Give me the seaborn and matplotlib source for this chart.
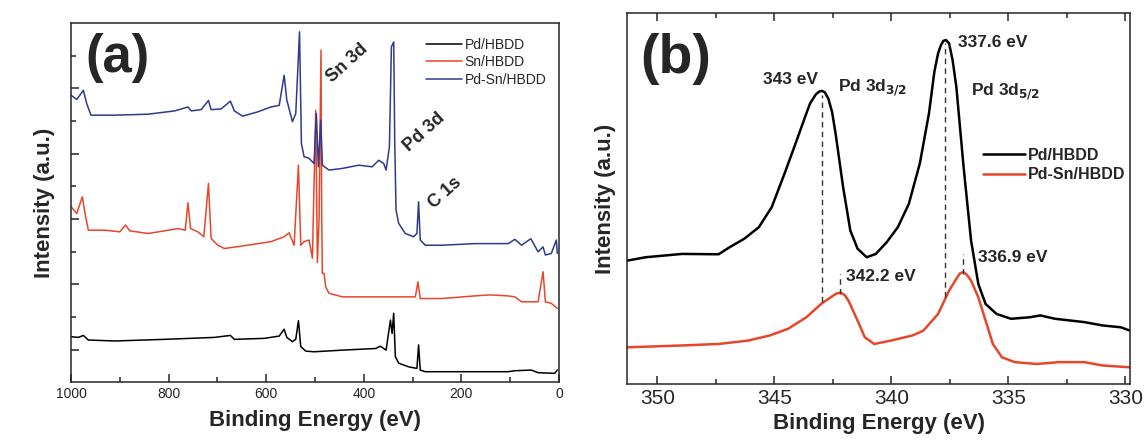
import numpy as np
import pandas as pd
import seaborn as sns
import matplotlib.pyplot as plt
from matplotlib.ticker import MultipleLocator, FixedLocator

# -----------------------------
# Data (a): survey spectra
# -----------------------------
pd_be = [1000, 985.0, 974.8, 964.6, 910.2, 808.2, 706.1, 673.5, 665.3, 604.1, 573.5,
         563.3, 557.8, 546.3, 539.5, 534.0, 529.3, 519.0, 502.0, 444.2, 376.1, 366.0,
         354.4, 345.5, 342.1, 338.8, 335.4, 328.6, 308.2, 291.2, 287.8, 284.4, 274.1,
         172.1, 104.1, 90.5, 56.6, 42.9, 8.8, 3.5]
pd_int = [1.40, 1.38, 1.44, 1.30, 1.27, 1.32, 1.38, 1.44, 1.32, 1.35, 1.42,
          1.63, 1.38, 1.25, 1.32, 1.89, 1.10, 0.96, 0.94, 0.99, 1.04, 1.11,
          0.99, 1.91, 1.50, 2.12, 0.79, 0.59, 0.48, 0.43, 1.15, 0.38, 0.33,
          0.33, 0.33, 0.36, 0.38, 0.30, 0.28, 0.38]

sn_be = [1000, 988.4, 976.9, 971.4, 964.6, 930.6, 900.0, 888.4, 879.6, 842.2, 808.2,
         780.9, 766.0, 760.5, 755.1, 740.1, 727.9, 718.4, 713.0, 699.3, 685.7, 638.1,
         590.5, 563.3, 553.1, 542.9, 534.0, 529.3, 522.5, 512.2, 505.4, 498.6, 495.2,
         491.8, 487.8, 486.4, 485.0, 481.6, 478.2, 471.4, 444.2, 376.1, 294.5, 289.1,
         284.4, 240.1, 172.1, 141.5, 104.1, 90.5, 76.9, 42.9, 32.7, 27.9, 15.7, 3.5]
sn_int = [5.38, 5.17, 5.68, 5.17, 4.66, 4.66, 4.61, 4.82, 4.64, 4.56, 4.64,
          4.71, 4.66, 5.50, 4.71, 4.61, 4.46, 6.09, 4.41, 4.20, 4.10, 4.20,
          4.31, 4.46, 4.58, 4.20, 6.65, 4.20, 4.31, 4.36, 3.80, 8.33, 3.67,
          4.97, 10.17, 5.20, 3.34, 3.34, 2.93, 2.73, 2.62, 2.62, 2.62, 3.08,
          2.57, 2.57, 2.65, 2.68, 2.65, 2.62, 2.47, 2.47, 3.39, 2.47, 2.42, 2.27]

pdsn_be = [1000, 988.4, 974.8, 968.0, 959.2, 910.2, 842.2, 787.8, 760.5, 753.7, 733.3,
           718.4, 713.0, 692.5, 673.5, 665.3, 648.3, 617.7, 590.5, 573.5, 563.3, 557.8,
           546.3, 539.5, 531.8, 527.9, 522.5, 512.2, 502.0, 497.3, 493.2, 488.4, 485.0,
           471.4, 444.2, 410.2, 383.0, 369.4, 359.2, 354.4, 347.6, 343.5, 338.8, 336.7,
           334.0, 328.6, 315.0, 298.0, 291.2, 287.8, 284.4, 274.1, 240.1, 172.1, 104.1,
           90.5, 76.9, 57.8, 42.9, 32.7, 27.9, 15.7, 5.5, 3.5]
pdsn_int = [8.79, 8.66, 8.94, 8.54, 8.18, 8.18, 8.21, 8.31, 8.43, 8.31, 8.35,
            8.63, 8.35, 8.37, 8.61, 8.31, 8.15, 8.28, 8.43, 8.48, 9.40, 8.64,
            7.98, 8.23, 10.73, 7.31, 6.91, 6.86, 6.70, 8.23, 6.60, 8.03, 6.65,
            6.50, 6.55, 6.65, 6.60, 6.80, 6.70, 6.50, 7.21, 10.27, 10.42, 7.42,
            5.28, 4.87, 4.56, 4.46, 4.56, 5.53, 4.36, 4.20, 4.20, 4.25, 4.25,
            4.38, 4.20, 4.40, 4.00, 4.15, 3.90, 3.95, 4.36, 3.95]

# -----------------------------
# Data (b): Pd 3d region
# -----------------------------
b_pd_be = [351.28, 350.50, 348.94, 347.38, 346.91, 346.28, 345.66, 345.11, 344.56,
           344.09, 343.63, 343.47, 343.23, 343.08, 342.97, 342.84, 342.69, 342.53,
           342.38, 342.06, 341.75, 341.44, 341.05, 340.66, 340.19, 339.72, 339.25,
           338.78, 338.39, 338.16, 338.00, 337.88, 337.77, 337.66, 337.53, 337.38,
           337.22, 336.91, 336.59, 336.28, 335.97, 335.50, 334.88, 334.09, 333.63,
           333.00, 331.75, 330.97, 330.19, 329.80]
b_pd_int = [33.3, 34.2, 35.1, 35.0, 36.9, 39.2, 42.3, 47.7, 56.8,
            64.9, 73.0, 75.7, 78.1, 78.9, 79.1, 78.7, 77.0, 73.4,
            67.6, 53.2, 41.4, 36.5, 34.2, 35.1, 38.3, 42.3, 48.6,
            59.5, 73.0, 84.2, 89.2, 91.4, 92.6, 92.8, 91.9, 87.4,
            80.2, 58.6, 38.7, 27.0, 21.6, 18.9, 17.6, 18.0, 18.5,
            17.6, 16.7, 15.8, 15.3, 14.4]

b_pdsn_be = [351.28, 348.94, 347.38, 346.13, 345.19, 344.41, 343.63, 343.00, 342.45,
             342.30, 342.14, 341.98, 341.83, 341.44, 341.13, 340.73, 340.03, 339.09,
             338.63, 338.00, 337.53, 337.22, 337.06, 336.91, 336.75, 336.59, 336.28,
             335.97, 335.66, 335.27, 334.72, 333.78, 332.84, 331.75, 330.97, 329.80]
b_pdsn_int = [9.9, 10.4, 10.8, 11.7, 13.1, 14.9, 18.0, 21.6, 24.0,
              24.5, 24.6, 23.9, 22.5, 17.1, 12.6, 10.8, 11.7, 13.1,
              14.4, 18.9, 25.2, 28.4, 29.9, 30.2, 29.3, 27.9, 23.4,
              17.1, 10.8, 7.2, 5.9, 5.4, 5.9, 5.9, 5.0, 4.5]

# peak positions marked with dashed lines (x, y_top, y_bottom)
peak_x = [342.97, 337.69, 342.19, 336.94]
peak_top = [78.0, 92.0, 29.7, 35.0]
peak_bot = [22.1, 23.4, 24.3, 29.7]

RED = "#E8462B"
BLUE = "#2E3A8C"

sns.set_style("ticks")
plt.rcParams['font.family'] = ['Liberation Sans', 'DejaVu Sans']

fig = plt.figure(figsize=(11.46, 4.46), dpi=100)
ax1 = fig.add_axes([0.062, 0.1424, 0.4258, 0.806])
ax2 = fig.add_axes([0.5474, 0.139, 0.4386, 0.831])

# -----------------------------
# Panel (a)
# -----------------------------
for be, inten, col, lab in [(pd_be, pd_int, "black", "Pd/HBDD"),
                            (sn_be, sn_int, RED, "Sn/HBDD"),
                            (pdsn_be, pdsn_int, BLUE, "Pd-Sn/HBDD")]:
    sns.lineplot(x=be, y=inten, ax=ax1, color=col, lw=1.1, sort=False,
                 estimator=None, label=lab)

ax1.set_xlim(1000, 0)
ax1.set_ylim(0, 11)
ax1.xaxis.set_major_locator(MultipleLocator(200))
ax1.xaxis.set_minor_locator(MultipleLocator(100))
ax1.yaxis.set_major_locator(FixedLocator([1, 3, 5, 7, 9]))
ax1.yaxis.set_minor_locator(FixedLocator([2, 4, 6, 8, 10]))
ax1.tick_params(axis="both", which="major", direction="in", length=6, width=1.1,
                labelsize=10)
ax1.tick_params(axis="both", which="minor", direction="in", length=3.5, width=1.1)
ax1.tick_params(axis="y", labelleft=False)
ax1.set_xlabel("Binding Energy (eV)", fontsize=16, fontweight="bold", labelpad=6)
ax1.set_ylabel("Intensity (a.u.)", fontsize=16, fontweight="bold", labelpad=8)
for sp in ax1.spines.values():
    sp.set_visible(True)
    sp.set_linewidth(1.1)

ax1.text(970, 9.92, "(a)", fontsize=38, fontweight="bold", ha="left", va="center")
ax1.text(434, 9.77, "Sn 3d", fontsize=13, fontweight="bold", rotation=42,
         ha="center", va="center")
ax1.text(277, 7.67, "Pd 3d", fontsize=13, fontweight="bold", rotation=42,
         ha="center", va="center")
ax1.text(234, 5.79, "C 1s", fontsize=13, fontweight="bold", rotation=42,
         ha="center", va="center")
ax1.legend(loc="upper left", bbox_to_anchor=(0.715, 0.975), frameon=False,
           fontsize=10, handlelength=2.6, handletextpad=0.2, labelspacing=0.25,
           borderaxespad=0)

# -----------------------------
# Panel (b)
# -----------------------------
sns.lineplot(x=b_pd_be, y=b_pd_int, ax=ax2, color="black", lw=1.8, sort=False,
             estimator=None, label="Pd/HBDD")
sns.lineplot(x=b_pdsn_be, y=b_pdsn_int, ax=ax2, color=RED, lw=1.8, sort=False,
             estimator=None, label="Pd-Sn/HBDD")
for px, yt, yb in zip(peak_x, peak_top, peak_bot):
    ax2.plot([px, px], [yb, yt], color="#333333", lw=1.0, ls=(0, (4, 3)))

ax2.set_xlim(351.28, 329.8)
ax2.set_ylim(0, 100)
ax2.xaxis.set_major_locator(MultipleLocator(5))
ax2.xaxis.set_minor_locator(MultipleLocator(2.5))
ax2.tick_params(axis="x", which="major", direction="in", length=6, width=1.1,
                labelsize=15, top=True)
ax2.tick_params(axis="x", which="minor", direction="in", length=3.5, width=1.1,
                top=True)
ax2.set_yticks([])
ax2.set_xlabel("Binding Energy (eV)", fontsize=16, fontweight="bold", labelpad=4)
ax2.set_ylabel("Intensity (a.u.)", fontsize=16, fontweight="bold", labelpad=8)
for sp in ax2.spines.values():
    sp.set_visible(True)
    sp.set_linewidth(1.1)

ax2.text(350.73, 87.8, "(b)", fontsize=40, fontweight="bold", ha="left", va="center")
ax2.text(345.47, 82.2, "343 eV", fontsize=12.5, fontweight="bold", va="center")
ax2.text(342.27, 80.0, "Pd 3d$_{\\mathbf{3/2}}$", fontsize=12.5, fontweight="bold",
         va="center")
ax2.text(337.14, 92.1, "337.6 eV", fontsize=12.5, fontweight="bold", va="center")
ax2.text(336.59, 78.8, "Pd 3d$_{\\mathbf{5/2}}$", fontsize=12.5, fontweight="bold",
         va="center")
ax2.text(341.94, 29.0, "342.2 eV", fontsize=12.5, fontweight="bold", va="center")
ax2.text(336.28, 34.2, "336.9 eV", fontsize=12.5, fontweight="bold", va="center")
leg = ax2.legend(loc="upper left", bbox_to_anchor=(0.695, 0.655), frameon=False,
                 handlelength=2.6, handletextpad=0.2, labelspacing=0.3,
                 borderaxespad=0, prop={"size": 11.5, "weight": "bold"})

fig.savefig("out.png", dpi=100, facecolor="white")
